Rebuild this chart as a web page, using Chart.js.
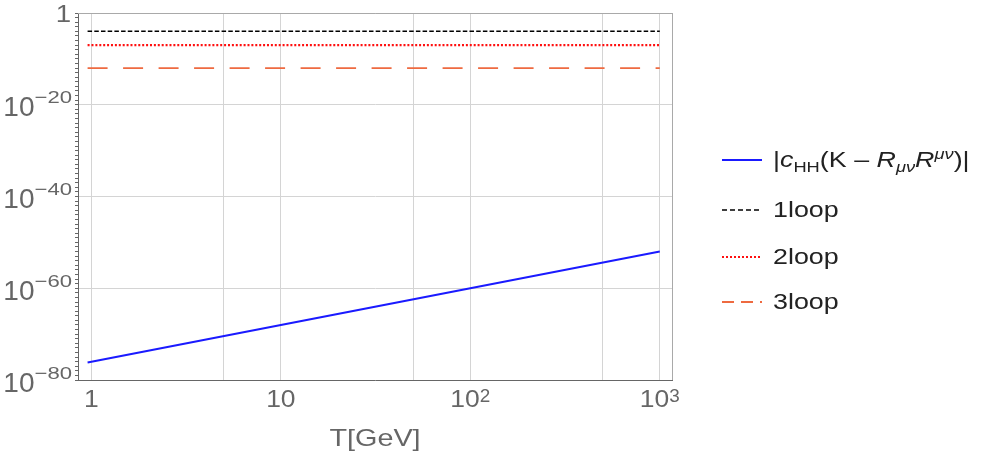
<!DOCTYPE html>
<html>
<head>
<meta charset="utf-8">
<script src="https://cdn.jsdelivr.net/npm/chart.js@4.4.0/dist/chart.umd.min.js"></script>
<style>
body{margin:0;background:#fff}
#wrap{position:relative;width:1000px;height:457px}
#legend{position:absolute;left:0;top:0;font-family:"Liberation Sans",Arial,sans-serif;font-size:22px;color:#222}
.item{position:absolute;left:722px;height:30px;display:flex;align-items:center;white-space:nowrap}
.item svg{width:40px;height:6px;margin-right:11px;flex:none}
.item span{display:inline-block;transform:scaleX(1.22);transform-origin:left center}
sub,sup{font-size:15px;line-height:0}
</style>
</head>
<body>
<div id="wrap">
<canvas id="myChart" width="1000" height="457"></canvas>
<div id="legend"></div>
</div>
<script>
"use strict"

// T in GeV
const t_line = [0.955, 10, 100, 1000]
const c_hh = [6.3e-77, 1e-68, 1e-60, 1e-52]
const t_loop = [0.955, 1000]
const one_loop = [1e-4, 1e-4]
const two_loop = [1e-7, 1e-7]
const three_loop = [1e-12, 1e-12]

const x_grid = [1, 5, 10, 50, 100, 500, 1000]
const x_labeled = [1, 10, 100, 1000]
const y_label_step = 20
const x_title = "T[GeV]"

const series_names = ["|cHH(K - RμνR^μν)|", "1loop", "2loop", "3loop"]
const legend_html = [
  '|<i>c</i><sub>HH</sub>(K – <i>R</i><sub><i>μν</i></sub><i>R</i><sup><i>μν</i></sup>)|',
  "1loop", "2loop", "3loop"
]

const ctx = document.getElementById("myChart")
const font_family = '"Liberation Sans", Arial, sans-serif'
const label_color = "#666"

function pts(xs, ys){
  let out = []
  for(let i = 0; i < xs.length; i++) out.push({x: xs[i], y: ys[i]})
  return out
}

function decade(v){
  return Math.round(Math.log10(v))
}

// draw text squashed/stretched sideways, x is left edge, returns drawn width
function wide_text(c, txt, x, y, size, sx){
  c.save()
  c.font = size + "px " + font_family
  c.textAlign = "left"
  c.textBaseline = "alphabetic"
  let w = c.measureText(txt).width * sx
  c.translate(x, y)
  c.scale(sx, 1)
  c.fillText(txt, 0, 0)
  c.restore()
  return w
}

function text_width(c, txt, size, sx){
  c.save()
  c.font = size + "px " + font_family
  let w = c.measureText(txt).width * sx
  c.restore()
  return w
}

// tick labels with real exponents + frame on top/right
const labels_plugin = {
  id: "labels",
  afterDraw(chart){
    const c = chart.ctx
    const a = chart.chartArea
    const xs = chart.scales.x
    const ys = chart.scales.y
    c.save()
    c.fillStyle = label_color

    // y labels, right aligned at x=72
    for(let t of ys.ticks){
      let e = decade(t.value)
      if(e % y_label_step !== 0) continue
      let py = ys.getPixelForValue(t.value)
      if(e === 0){
        let w = text_width(c, "1", 23, 1.2)
        wide_text(c, "1", 71 - w, py + 9, 23, 1.2)
        continue
      }
      let ex = "−" + Math.abs(e)
      let we = text_width(c, ex, 17, 1.3)
      let wb = text_width(c, "10", 28, 1.0)
      wide_text(c, "10", 72 - we - wb, py + 11.5, 28, 1.0)
      wide_text(c, ex, 72 - we, py - 1.5, 17, 1.3)
    }

    // x labels, centred on tick
    for(let v of x_labeled){
      let px = xs.getPixelForValue(v)
      let e = decade(v)
      if(e < 2){
        let s = e === 0 ? "1" : "10"
        let w = text_width(c, s, 23, 1.15)
        wide_text(c, s, px - w / 2, 407, 23, 1.15)
      }else{
        let ex = String(e)
        let wb = text_width(c, "10", 23, 1.15)
        let we = text_width(c, ex, 18, 1.05)
        let x0 = px - (wb + we) / 2
        wide_text(c, "10", x0, 407, 23, 1.15)
        wide_text(c, ex, x0 + wb, 402, 18, 1.05)
      }
    }

    // axis title
    let tw = text_width(c, x_title, 24, 1.2)
    wide_text(c, x_title, (a.left + a.right) / 2 - tw / 2, 446, 24, 1.2)

    // frame
    c.strokeStyle = "#a9a9a9"
    c.lineWidth = 1
    c.beginPath()
    c.moveTo(a.left, Math.round(a.top) + 0.5)
    c.lineTo(a.right + 0.5, Math.round(a.top) + 0.5)
    c.moveTo(Math.round(a.right) + 0.5, a.top)
    c.lineTo(Math.round(a.right) + 0.5, a.bottom)
    c.stroke()
    c.restore()
  }
}

let graph = new Chart(ctx, {
  type: "line",
  data: {
    datasets: [
      {
        label: series_names[0],
        data: pts(t_line, c_hh),
        borderColor: "#1a1aff",
        borderWidth: 2,
      },
      {
        label: series_names[1],
        data: pts(t_loop, one_loop),
        borderColor: "#000000",
        borderWidth: 1.5,
        borderDash: [4.5, 2.2],
      },
      {
        label: series_names[2],
        data: pts(t_loop, two_loop),
        borderColor: "#ff1010",
        borderWidth: 2.2,
        borderDash: [2, 1.9],
      },
      {
        label: series_names[3],
        data: pts(t_loop, three_loop),
        borderColor: "#ee6a40",
        borderWidth: 1.8,
        borderDash: [20, 15.5],
      }
    ]
  },
  options: {
    responsive: false,
    animation: false,
    elements: {
      point: {radius: 0},
      line: {tension: 0}
    },
    layout: {
      padding: {top: 13, right: 328, left: 0, bottom: 0}
    },
    plugins: {
      legend: {display: false},
      tooltip: {enabled: false}
    },
    scales: {
      x: {
        type: "logarithmic",
        min: 0.85,
        max: 1160,
        afterBuildTicks: (scale) => {
          scale.ticks = x_grid.map(v => ({value: v}))
        },
        afterFit: (scale) => {
          scale.height = 77
        },
        ticks: {display: false, autoSkip: false},
        grid: {
          color: "#d4d4d4",
          drawTicks: false
        },
        border: {color: "#666", width: 1}
      },
      y: {
        type: "logarithmic",
        min: 1e-80,
        max: 1,
        afterBuildTicks: (scale) => {
          let t = []
          for(let e = -80; e <= 0; e++) t.push({value: Math.pow(10, e)})
          scale.ticks = t
        },
        afterFit: (scale) => {
          scale.width = 78
        },
        ticks: {display: false, autoSkip: false},
        grid: {
          color: (c) => {
            if(!c.tick) return "rgba(0,0,0,0)"
            let e = decade(c.tick.value)
            return (e % y_label_step === 0) ? "#d4d4d4" : "rgba(0,0,0,0)"
          },
          tickColor: "#666",
          tickLength: 3
        },
        border: {color: "#666", width: 1}
      }
    }
  },
  plugins: [labels_plugin]
})

// legend in html, so sub/superscripts come out right
const legend_y = [160, 210, 256.7, 301.7]
const legend_div = document.getElementById("legend")
graph.data.datasets.forEach((ds, i) => {
  let item = document.createElement("div")
  item.className = "item"
  item.style.top = (legend_y[i] - 15) + "px"
  let dash = "none"
  if(i === 1) dash = "5 3"
  if(i === 2) dash = "2 2"
  if(i === 3) dash = "12 7"
  item.innerHTML = '<svg viewBox="0 0 40 6"><line x1="0" y1="3" x2="40" y2="3" stroke="' + ds.borderColor +
    '" stroke-width="' + Math.min(ds.borderWidth, 1.8) + '" stroke-dasharray="' + dash + '"/></svg><span>' + legend_html[i] + '</span>'
  legend_div.appendChild(item)
})
</script>
</body>
</html>
